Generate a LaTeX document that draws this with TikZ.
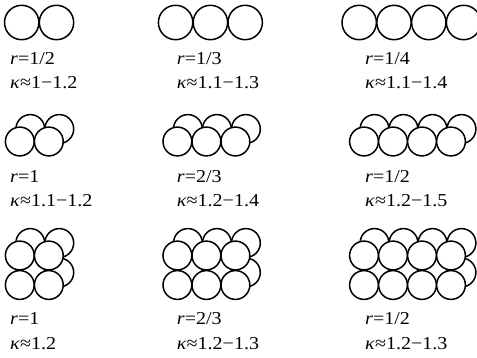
\documentclass[tikz,border=0pt]{standalone}
\usepackage{fontspec}
\setmainfont[FakeStretch=1.1]{Liberation Serif}
\begin{document}
\begin{tikzpicture}[x=1pt,y=-1pt,
  ball/.style={draw=black, line width=1.5pt, fill=white},
  lab/.style={anchor=base west, inner sep=0pt, font=\fontsize{18.2}{22}\selectfont}]
\useasboundingbox (0,0) rectangle (477,358);
% ---------- row 1: single rows
\foreach \i in {0,1} \draw[ball] (21.7+\i*34.8,22.5) circle (17.2pt);
\foreach \i in {0,1,2} \draw[ball] (175.6+\i*34.8,22.5) circle (17.2pt);
\foreach \i in {0,1,2,3} \draw[ball] (359.2+\i*34.8,22.5) circle (17.2pt);
% ---------- row 2: one front row + one back row
\foreach \x/\n in {19.8/1,177.4/2,364/3}{
  \foreach \i in {0,...,\n} \draw[ball] (\x+\i*29+10.5,141.5-12.5) circle (14.4pt);
  \foreach \i in {0,...,\n} \draw[ball] (\x+\i*29,141.5) circle (14.4pt);
}
% ---------- row 3: two front rows + two back rows
\foreach \x/\n in {19.8/1,177.4/2,364/3}{
  \foreach \j in {0,1}{
    \foreach \i in {0,...,\n} \draw[ball] (\x+\i*29+10.5,255.5+\j*29.5-12.5) circle (14.4pt);
  }
  \foreach \j in {0,1}{
    \foreach \i in {0,...,\n} \draw[ball] (\x+\i*29,255.5+\j*29.5) circle (14.4pt);
  }
}
% ---------- labels
\node[lab] (r11) at (10,64.5) {\textit{r}=1/2};
\node[lab] (k11) at (10,88.5) {\textit{κ}≈1−1.2};
\node[lab] (r12) at (176.7,64.5) {\textit{r}=1/3};
\node[lab] (k12) at (176.7,88.5) {\textit{κ}≈1.1−1.3};
\node[lab] (r13) at (365,64.5) {\textit{r}=1/4};
\node[lab] (k13) at (365,88.5) {\textit{κ}≈1.1−1.4};
\node[lab] (r21) at (10,183) {\textit{r}=1};
\node[lab] (k21) at (10,207) {\textit{κ}≈1.1−1.2};
\node[lab] (r22) at (176.7,183) {\textit{r}=2/3};
\node[lab] (k22) at (176.7,207) {\textit{κ}≈1.2−1.4};
\node[lab] (r23) at (365,183) {\textit{r}=1/2};
\node[lab] (k23) at (365,207) {\textit{κ}≈1.2−1.5};
\node[lab] (r31) at (10,325) {\textit{r}=1};
\node[lab] (k31) at (10,349) {\textit{κ}≈1.2};
\node[lab] (r32) at (176.7,325) {\textit{r}=2/3};
\node[lab] (k32) at (176.7,349) {\textit{κ}≈1.2−1.3};
\node[lab] (r33) at (365,325) {\textit{r}=1/2};
\node[lab] (k33) at (365,349) {\textit{κ}≈1.2−1.3};
\end{tikzpicture}
\end{document}
